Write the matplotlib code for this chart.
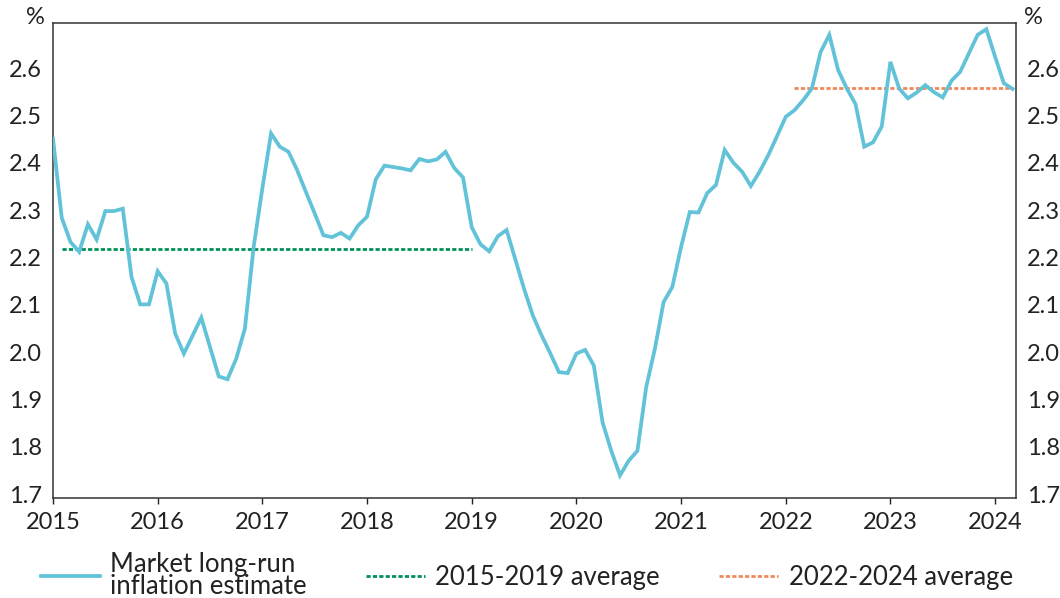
import numpy as np
import matplotlib
matplotlib.use("Agg")
import matplotlib.pyplot as plt

# monthly values, Jan 2015 .. Mar 2024
estimate = [
    2.451, 2.284, 2.233, 2.212, 2.270, 2.238, 2.298, 2.298, 2.303, 2.159, 2.101, 2.101,
    2.171, 2.145, 2.040, 1.997, 2.035, 2.073, 2.011, 1.949, 1.943, 1.986, 2.050, 2.222,
    2.346, 2.462, 2.434, 2.423, 2.384, 2.338, 2.293, 2.247, 2.243, 2.252, 2.240, 2.268,
    2.286, 2.365, 2.394, 2.391, 2.388, 2.384, 2.408, 2.403, 2.407, 2.423, 2.389, 2.369,
    2.264, 2.228, 2.213, 2.245, 2.258, 2.196, 2.134, 2.078, 2.036, 1.998, 1.958, 1.956,
    1.997, 2.005, 1.972, 1.852, 1.792, 1.740, 1.771, 1.792, 1.926, 2.007, 2.106, 2.138,
    2.222, 2.296, 2.295, 2.336, 2.353, 2.427, 2.400, 2.381, 2.351, 2.381, 2.416, 2.456,
    2.497, 2.511, 2.532, 2.557, 2.634, 2.670, 2.596, 2.557, 2.524, 2.434, 2.443, 2.476,
    2.613, 2.557, 2.536, 2.548, 2.564, 2.549, 2.538, 2.573, 2.592, 2.631, 2.670, 2.682,
    2.624, 2.568, 2.556,
]
avg_1519 = 2.217
avg_1519_months = (1, 48)
avg_2224 = 2.557
avg_2224_months = (85, 110)

years = list(range(2015, 2025))
yticks = [1.7, 1.8, 1.9, 2.0, 2.1, 2.2, 2.3, 2.4, 2.5, 2.6]

plt.rcParams['font.family'] = ['Lato', 'DejaVu Sans']
plt.rcParams['font.size'] = 17

blue = "#62C3D8"
green = "#00905A"
orange = "#F0895A"

t = 2015 + np.arange(len(estimate)) / 12.0

fig = plt.figure(figsize=(10.6, 5.98), dpi=100)
ax = fig.add_axes([0.050, 0.167, 0.9085, 0.7945])

ax.plot(t, estimate, color=blue, lw=2.7, label="Market long-run\ninflation estimate",
        solid_joinstyle="miter", zorder=3)
g0, g1 = avg_1519_months
ax.plot([2015 + g0 / 12, 2015 + g1 / 12], [avg_1519, avg_1519], color=green, lw=2.0,
        ls=(0, (1.5, 0.8)), label="2015-2019 average", zorder=2)
o0, o1 = avg_2224_months
ax.plot([2015 + o0 / 12, 2015 + o1 / 12], [avg_2224, avg_2224], color=orange, lw=2.0,
        ls=(0, (1.5, 0.8)), label="2022-2024 average", zorder=2)

ax.set_xlim(2015, 2024.2)
ax.set_ylim(1.692, 2.695)
ax.set_xticks(years)
ax.set_xticklabels([str(y) for y in years])
ax.set_yticks(yticks)
ax.set_yticklabels(["%.1f" % v for v in yticks])
ax.tick_params(axis="x", length=4, width=1, pad=6, colors="#222222")
ax.tick_params(axis="y", length=0, pad=8, colors="#222222", labelright=True)
for s in ax.spines.values():
    s.set_color("#333333")
    s.set_linewidth(1.1)

fig.text(35 / 1060, 1 - 18 / 598, "%", ha="center", va="center", color="#222222")
fig.text(1033 / 1060, 1 - 18 / 598, "%", ha="center", va="center", color="#222222")

leg = fig.legend(loc="center", bbox_to_anchor=(0.497, 0.038), ncol=3, frameon=False,
                 fontsize=18.5, handlelength=2.3, handletextpad=0.4, columnspacing=2.3,
                 labelspacing=0.2)
for txt in leg.get_texts():
    txt.set_linespacing(0.85)
    txt.set_color("#222222")

fig.savefig("out.png", dpi=100)
